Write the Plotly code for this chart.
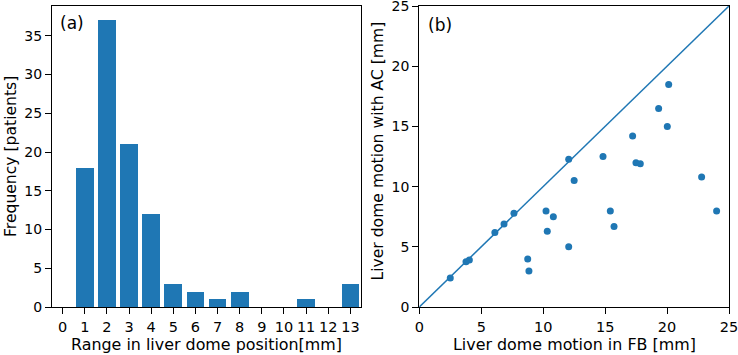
import plotly.graph_objects as go

# Panel (a) histogram data
range_mm = list(range(0, 14))
frequency = [0, 18, 37, 21, 12, 3, 2, 1, 2, 0, 0, 1, 0, 3]

# Panel (b) scatter data
motion_fb = [2.5, 3.77, 4.04, 6.1, 6.84, 7.64, 8.75, 8.85, 10.23, 10.33, 10.82, 12.06, 12.06, 12.5,
             14.83, 15.42, 15.72, 17.22, 17.49, 17.84, 19.32, 20.02, 20.13, 22.79, 24.0]
motion_ac = [2.4, 3.76, 3.9, 6.19, 6.9, 7.79, 3.98, 2.98, 7.98, 6.3, 7.49, 12.27, 5.0, 10.5,
             12.49, 7.98, 6.69, 14.2, 11.99, 11.9, 16.49, 15.0, 18.48, 10.8, 7.98]
identity = [0, 25]

W, H = 738, 355
blue = "#1f77b4"
font = "DejaVu Sans"

fig = go.Figure()
fig.add_trace(go.Bar(x=range_mm, y=frequency, width=0.8, marker=dict(color=blue, line=dict(width=0)),
                     xaxis="x", yaxis="y", showlegend=False))
fig.add_trace(go.Scatter(x=identity, y=identity, mode="lines", line=dict(color=blue, width=1.5),
                         xaxis="x2", yaxis="y2", showlegend=False, cliponaxis=False))
fig.add_trace(go.Scatter(x=motion_fb, y=motion_ac, mode="markers",
                         marker=dict(color=blue, size=7, line=dict(width=0)),
                         xaxis="x2", yaxis="y2", showlegend=False))

def px_x(p):
    return p / W

def px_y(p):
    return 1 - p / H

axis_common = dict(showline=True, linecolor="black", linewidth=1.3, mirror=True,
                   ticks="outside", ticklen=6, tickwidth=1.2, tickcolor="black",
                   showgrid=False, zeroline=False, automargin=False, ticklabeloverflow="allow")
xtf = dict(family=font, size=14.5, color="black")
ytf = dict(family=font, size=14, color="black")

ydom = [px_y(307), px_y(6)]
fig.update_layout(
    width=W, height=H,
    margin=dict(l=0, r=0, t=0, b=0),
    plot_bgcolor="white", paper_bgcolor="white",
    font=dict(family=font, size=14, color="black"),
    bargap=0,
    xaxis=dict(domain=[px_x(52), px_x(361)], range=[-0.48, 13.48], tickmode="array",
               tickvals=range_mm, ticktext=[str(v) for v in range_mm], anchor="y",
               tickfont=xtf, **axis_common),
    yaxis=dict(domain=ydom, range=[0, 38.85], tickmode="array", tickvals=[0, 5, 10, 15, 20, 25, 30, 35],
               anchor="x", tickfont=ytf, **axis_common),
    xaxis2=dict(domain=[px_x(419.3), px_x(729)], range=[0, 25], tickmode="array",
                tickvals=[0, 5, 10, 15, 20, 25], anchor="y2", tickfont=xtf, **axis_common),
    yaxis2=dict(domain=ydom, range=[0, 25], tickmode="array", tickvals=[0, 5, 10, 15, 20, 25],
                anchor="x2", tickfont=ytf, **axis_common),
)

ann = [
    dict(text="(a)", x=px_x(58), y=px_y(23), xanchor="left", yanchor="middle", font=dict(size=17)),
    dict(text="(b)", x=px_x(426), y=px_y(25), xanchor="left", yanchor="middle", font=dict(size=17)),
    dict(text="Range in liver dome position[mm]", x=px_x(206.5), y=px_y(344.5), xanchor="center",
         yanchor="middle", font=dict(size=15.9)),
    dict(text="Liver dome motion in FB [mm]", x=px_x(574), y=px_y(344.5), xanchor="center",
         yanchor="middle", font=dict(size=15.9)),
    dict(text="Frequency [patients]", x=px_x(10.5), y=px_y(156.5), xanchor="center", yanchor="middle",
         textangle=-90, font=dict(size=15.6)),
    dict(text="Liver dome motion with AC [mm]", x=px_x(377.5), y=px_y(151), xanchor="center",
         yanchor="middle", textangle=-90, font=dict(size=15.6)),
]
for a in ann:
    a.update(xref="paper", yref="paper", showarrow=False)
    a["font"].update(family=font, color="black")
fig.update_layout(annotations=ann)

fig.write_html("out.html", config={"displayModeBar": False},
               post_script="document.body.style.margin='0';document.body.style.overflow='hidden';")
